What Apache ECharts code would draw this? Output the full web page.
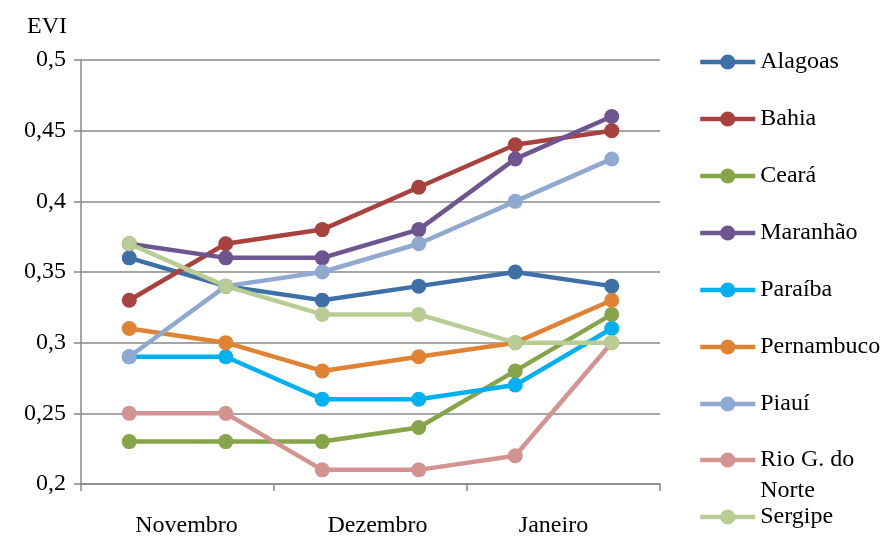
<!DOCTYPE html>
<html>
<head>
<meta charset="utf-8">
<script src="https://cdn.jsdelivr.net/npm/echarts@6/dist/echarts.min.js"></script>
<style>html,body{margin:0;padding:0;background:#fff}#c{width:893px;height:536px}</style>
</head>
<body>
<div id="c"></div>
<script>
const points = ['Nov 1', 'Nov 2', 'Dez 1', 'Dez 2', 'Jan 1', 'Jan 2'];
const months = ['Novembro', 'Dezembro', 'Janeiro'];
const yTicks = [0.2, 0.5, 0.05];
const states = ['Alagoas', 'Bahia', 'Ceará', 'Maranhão', 'Paraíba', 'Pernambuco', 'Piauí', 'Rio G. do Norte', 'Sergipe'];
const alagoas    = [0.36, 0.34, 0.33, 0.34, 0.35, 0.34];
const bahia      = [0.33, 0.37, 0.38, 0.41, 0.44, 0.45];
const ceara      = [0.23, 0.23, 0.23, 0.24, 0.28, 0.32];
const maranhao   = [0.37, 0.36, 0.36, 0.38, 0.43, 0.46];
const paraiba    = [0.29, 0.29, 0.26, 0.26, 0.27, 0.31];
const pernambuco = [0.31, 0.30, 0.28, 0.29, 0.30, 0.33];
const piaui      = [0.29, 0.34, 0.35, 0.37, 0.40, 0.43];
const rioGNorte  = [0.25, 0.25, 0.21, 0.21, 0.22, 0.30];
const sergipe    = [0.37, 0.34, 0.32, 0.32, 0.30, 0.30];
const values = [alagoas, bahia, ceara, maranhao, paraiba, pernambuco, piaui, rioGNorte, sergipe];
const colors = ['#3F6FA7', '#A8423F', '#86A44A', '#6E5590', '#00B0F0', '#DF8234', '#8FA9D0', '#D39391', '#B8CC94'];

const font = 'Liberation Serif';
const fs = 24;
const chart = echarts.init(document.getElementById('c'));
const lbl = {fontFamily: font, fontSize: fs, color: '#000'};
const legendBase = {
  orient: 'vertical', left: 698, height: 530, padding: 0, itemGap: 26,
  itemWidth: 55, itemHeight: 19, lineStyle: {width: 4.5},
  textStyle: Object.assign({}, lbl, {lineHeight: 31})
};
chart.setOption({
  animation: false,
  color: colors,
  grid: {left: 81, right: 233, top: 60, bottom: 52, containLabel: false, outerBoundsMode: 'none'},
  xAxis: [
    {type: 'category', data: points, boundaryGap: true,
     axisLine: {show: true, lineStyle: {color: '#888', width: 1.5}},
     axisTick: {show: false}, axisLabel: {show: false}},
    {type: 'category', data: months, boundaryGap: true, position: 'bottom',
     axisLine: {show: false},
     axisTick: {show: true, interval: 0, length: 7, lineStyle: {color: '#888', width: 1.5}},
     axisLabel: Object.assign({}, lbl, {margin: 30, interval: 0, hideOverlap: false,
       formatter: (v, i) => '{m' + i + '|' + v + '}',
       rich: {
         m0: Object.assign({}, lbl, {padding: [0, 0, 0, 18]}),
         m1: Object.assign({}, lbl, {padding: [0, 0, 0, 14]}),
         m2: Object.assign({}, lbl, {padding: [0, 20, 0, 0]})
       }})}
  ],
  yAxis: {
    type: 'value', min: yTicks[0], max: yTicks[1], interval: yTicks[2],
    name: 'EVI', nameLocation: 'end', nameGap: 21,
    nameTextStyle: Object.assign({}, lbl, {align: 'right', padding: [0, 14, 0, 0]}),
    axisLine: {show: true, lineStyle: {color: '#888', width: 1.5}},
    axisTick: {show: true, length: 7, lineStyle: {color: '#888', width: 1.5}},
    splitLine: {show: true, lineStyle: {color: '#888', width: 1.5}},
    axisLabel: Object.assign({}, lbl, {margin: 15,
      formatter: v => String(+v.toFixed(2)).replace('.', ',')})
  },
  legend: [
    Object.assign({}, legendBase, {top: 46.5, data: states.slice(0, 7)}),
    Object.assign({}, legendBase, {top: 413.5, data: [states[7]],
      formatter: n => '\n' + n.replace('Rio G. do ', 'Rio G. do\n')}),
    Object.assign({}, legendBase, {top: 501.5, data: [states[8]]})
  ],
  series: states.map((s, i) => ({
    name: s, type: 'line', data: values[i], xAxisIndex: 0,
    symbol: 'circle', symbolSize: 15,
    lineStyle: {width: 4.5, color: colors[i]},
    itemStyle: {color: colors[i]}
  }))
});
</script>
</body>
</html>
